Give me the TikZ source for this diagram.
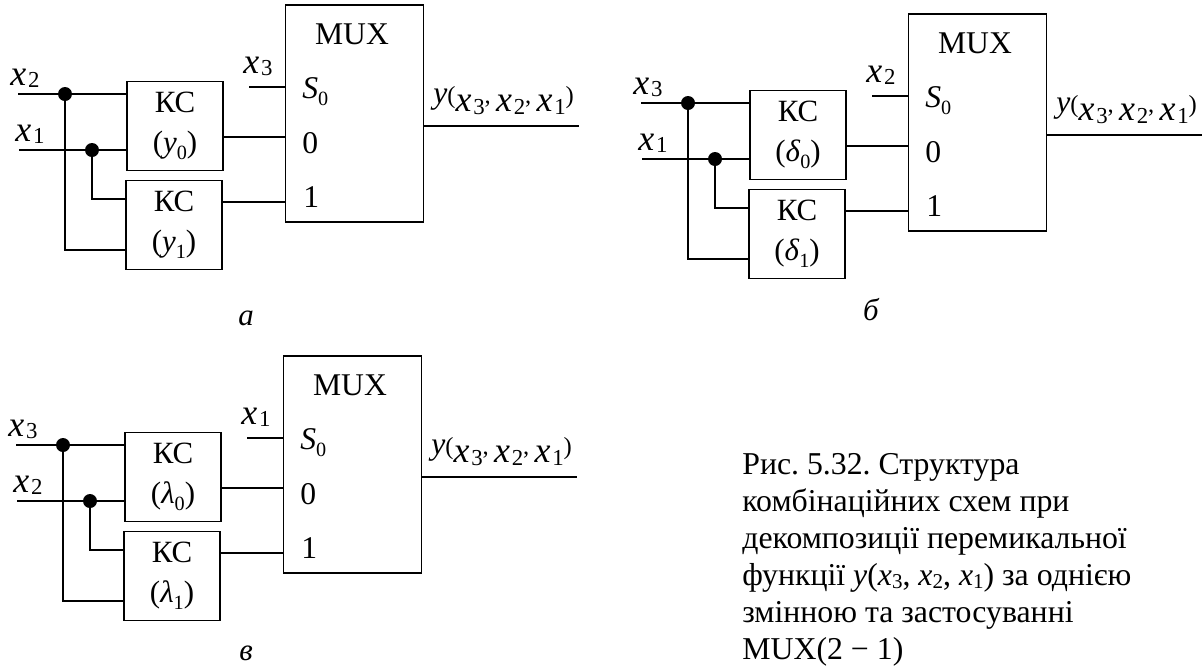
\documentclass[tikz,border=0pt]{standalone}
\usepackage{fontspec}
\setmainfont{Liberation Serif}
\newcommand{\sv}[1]{\raisebox{-4pt}{\fontsize{11.5}{14}\selectfont #1}}
\newcommand{\xv}[1]{{\fontsize{20.4}{24}\selectfont\itshape x}\kern1pt\raisebox{-1.5pt}{\fontsize{13}{14}\selectfont #1}}
\newcommand{\xc}[1]{\textit{x}\raisebox{-1.5pt}{\fontsize{12}{12}\selectfont #1}}
\newcommand{\fv}[2]{(\textit{#1}\sv{#2})}
\tikzset{
	wire/.style={line width=1.1pt},
	kcbox/.style={draw,line width=1.1pt,minimum width=1.92cm,minimum height=1.78cm,inner sep=0pt,align=center,font=\fontsize{17.6}{22.7}\selectfont},
	muxbox/.style={draw,line width=1.1pt,minimum width=2.76cm,minimum height=4.34cm,inner sep=0pt},
	dot/.style={circle,fill=black,inner sep=0pt,minimum size=.28cm},
	lab/.style={anchor=base west,inner sep=0pt,font=\fontsize{18}{20}\selectfont},
	cpt/.style={anchor=base,inner sep=0pt,font=\fontsize{17.6}{20}\selectfont\itshape}
}
\begin{document}
\begin{tikzpicture}[x=.02cm,y=-.02cm]
	\useasboundingbox (0,0) rectangle (1202,667);
	
	\foreach \dx/\dy/\ina/\inb/\sel/\fnz/\nm in {
		0/0/2/1/3/y/a,
		623/9/3/1/2/δ/b,
		-2/351/3/2/1/λ/c}{
		\begin{scope}[shift={(\dx,\dy)}]
			\node[muxbox] (mux\nm) at (354.5,113.5) {};
			\node[kcbox] (kcz\nm) at (175,126) {КС\\\fv{\fnz}{0}};
			\node[kcbox] (kco\nm) at (174,225) {КС\\\fv{\fnz}{1}};
			\node[dot] (da\nm) at (65,94) {};
			\node[dot] (db\nm) at (92,150) {};
			
			\coordinate (ia\nm) at (18,94);
			\coordinate (ib\nm) at (19,150);
			\coordinate (ms\nm) at (249,87);
			\coordinate (mz\nm) at (285,137);
			\coordinate (mo\nm) at (285,202);
			\coordinate (oy\nm) at (579,126);
			\coordinate (ca\nm) at (65,250);
			\coordinate (cb\nm) at (92,199);
			
			\draw[wire] (ia\nm) -- (ia\nm -| kcz\nm.west);
			\draw[wire] (ib\nm) -- (ib\nm -| kcz\nm.west);
			\draw[wire] (da\nm.center) -- (ca\nm) -- (ca\nm -| kco\nm.west);
			\draw[wire] (db\nm.center) -- (cb\nm) -- (cb\nm -| kco\nm.west);
			\draw[wire] (ms\nm) -- (ms\nm -| mux\nm.west);
			\draw[wire] (mz\nm -| kcz\nm.east) -- (mz\nm -| mux\nm.west);
			\draw[wire] (mo\nm -| kco\nm.east) -- (mo\nm -| mux\nm.west);
			\draw[wire] (oy\nm -| mux\nm.east) -- (oy\nm);
			
			\node[lab] (ta\nm) at (10,85) {\xv{\ina}};
			\node[lab] (tb\nm) at (15,141) {\xv{\inb}};
			\node[lab] (ts\nm) at (243,73) {\xv{\sel}};
			\node[lab,anchor=base] (tm\nm) at (352,44) {MUX};
			\node[lab] (tz\nm) at (302,98) {\textit{S}\sv{0}};
			\node[lab] (tq\nm) at (302,153) {0};
			\node[lab] (tw\nm) at (303,207) {1};
			%y raised over the x
			\node[lab,font=\fontsize{14}{14}\selectfont] (ty\nm) at (433,103) {{\fontsize{18}{18}\selectfont\textit{y}}(\raisebox{-5pt}{\xv{3}},\kern3pt\raisebox{-5pt}{\xv{2}},\kern3pt\raisebox{-5pt}{\xv{1}})};
		\end{scope}
	}
	
	\node[cpt] (capa) at (246,325) {а};
	\node[cpt] (capb) at (871,320) {б};
	\node[cpt] (capc) at (246,660) {в};
	
	\node[anchor=north west,inner sep=0pt,align=left,font=\fontsize{18.1}{21}\selectfont\frenchspacing] (capt) at (742,453.5) {Рис. 5.32. Структура\\комбінаційних схем при\\декомпозиції перемикальної\\функції \textit{y}(\xc{3}, \xc{2}, \xc{1}) за однією\\змінною та застосуванні\\MUX(2 − 1)};
\end{tikzpicture}
\end{document}
